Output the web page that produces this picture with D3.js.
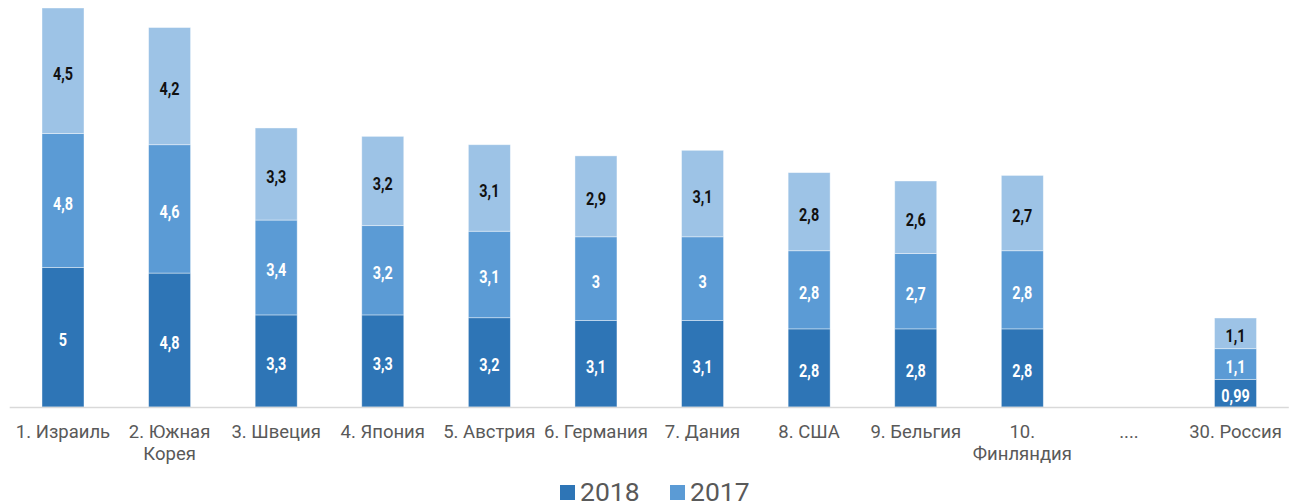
<!DOCTYPE html>
<html>
<head>
<meta charset="utf-8">
<script src="https://cdn.jsdelivr.net/npm/d3@7"></script>
<style>
  body { margin: 0; background: #fff; }
  svg { display: block; }
</style>
</head>
<body>
<div id="chart"></div>
<script>
let categories = ["1. Израиль", "2. Южная\nКорея", "3. Швеция", "4. Япония", "5. Австрия",
  "6. Германия", "7. Дания", "8. США", "9. Бельгия", "10.\nФинляндия", "....", "30. Россия"];
let values2018 = [5, 4.8, 3.3, 3.3, 3.2, 3.1, 3.1, 2.8, 2.8, 2.8, null, 0.99];
let values2017 = [4.8, 4.6, 3.4, 3.2, 3.1, 3, 3, 2.8, 2.7, 2.8, null, 1.1];
let values2016 = [4.5, 4.2, 3.3, 3.2, 3.1, 2.9, 3.1, 2.8, 2.6, 2.7, null, 1.1];
let seriesNames = ["2018", "2017", "2016"];
let legendNames = ["2018", "2017"];

let width = 1306, height = 504;
let colors = { "2018": "#2e75b6", "2017": "#5b9bd5", "2016": "#9dc3e6" };
let labelColors = { "2018": "#fff", "2017": "#fff", "2016": "#111" };

let svg = d3.select("#chart").append("svg")
  .attr("width", width)
  .attr("height", height);

let x = d3.scaleBand()
  .domain(categories)
  .range([9.7, 1288.8])
  .paddingInner(0.606)
  .paddingOuter(0.303);

let y = d3.scaleLinear()
  .domain([0, 14.3])
  .range([407, 8]);

// build stacked table
let table = categories.map(function (c, i) {
  return { cat: c, "2018": values2018[i] || 0, "2017": values2017[i] || 0, "2016": values2016[i] || 0 };
});
let stack = d3.stack().keys(seriesNames)(table);

let layers = svg.selectAll(".layer")
  .data(stack)
  .enter()
  .append("g")
  .attr("class", "layer");

layers.selectAll("rect")
  .data(function (d) { return d.map(function (p) { return { key: d.key, p: p }; }); })
  .enter()
  .filter(function (d) { return d.p[1] > d.p[0]; })
  .append("rect")
  .attr("x", function (d) { return x(d.p.data.cat); })
  .attr("y", function (d) { return y(d.p[1]); })
  .attr("width", x.bandwidth())
  .attr("height", function (d) { return y(d.p[0]) - y(d.p[1]); })
  .style("fill", function (d) { return colors[d.key]; })
  .style("stroke", "#fff")
  .style("stroke-opacity", 0.5)
  .style("stroke-width", 0.8);

// value labels, squeezed horizontally to look condensed
layers.selectAll("text")
  .data(function (d) { return d.map(function (p) { return { key: d.key, p: p }; }); })
  .enter()
  .filter(function (d) { return d.p[1] > d.p[0]; })
  .append("text")
  .attr("transform", function (d) {
    let cx = x(d.p.data.cat) + x.bandwidth() / 2;
    let cy = (y(d.p[0]) + y(d.p[1])) / 2;
    return "translate(" + cx + "," + cy + ") scale(0.8,1)";
  })
  .attr("dy", "0.5em")
  .attr("text-anchor", "middle")
  .style("font-family", "Roboto, sans-serif")
  .style("font-weight", "bold")
  .style("font-size", "18px")
  .style("fill", function (d) { return labelColors[d.key]; })
  .text(function (d) { return String(d.p.data[d.key]).replace(".", ","); });

// axis baseline
svg.append("line")
  .attr("x1", x.range()[0])
  .attr("x2", x.range()[1])
  .attr("y1", y(0) + 0.5)
  .attr("y2", y(0) + 0.5)
  .style("stroke", "#d9d9d9")
  .style("stroke-width", 1.5);

// category labels
let catLabels = svg.selectAll(".cat")
  .data(categories)
  .enter()
  .append("text")
  .attr("class", "cat")
  .attr("text-anchor", "middle")
  .attr("transform", function (d) { return "translate(" + (x(d) + x.bandwidth() / 2) + ",438)"; })
  .style("font-family", "Roboto, sans-serif")
  .style("font-size", "18.5px")
  .style("fill", "#595959");

catLabels.selectAll("tspan")
  .data(function (d) { return d.split("\n"); })
  .enter()
  .append("tspan")
  .attr("x", 0)
  .attr("dy", function (d, i) { return i === 0 ? 0 : 21.5; })
  .text(function (d) { return d; });

// legend
let legend = svg.append("g").attr("transform", "translate(560,0)");
let legendX = [0, 110];
legendNames.forEach(function (name, i) {
  legend.append("rect")
    .attr("x", legendX[i])
    .attr("y", 485)
    .attr("width", 15)
    .attr("height", 15)
    .style("fill", colors[name]);
  legend.append("text")
    .attr("x", legendX[i] + 20)
    .attr("y", 500.5)
    .style("font-family", "Roboto, sans-serif")
    .style("font-size", "26.5px")
    .style("fill", "#595959")
    .text(name);
});
</script>
</body>
</html>
